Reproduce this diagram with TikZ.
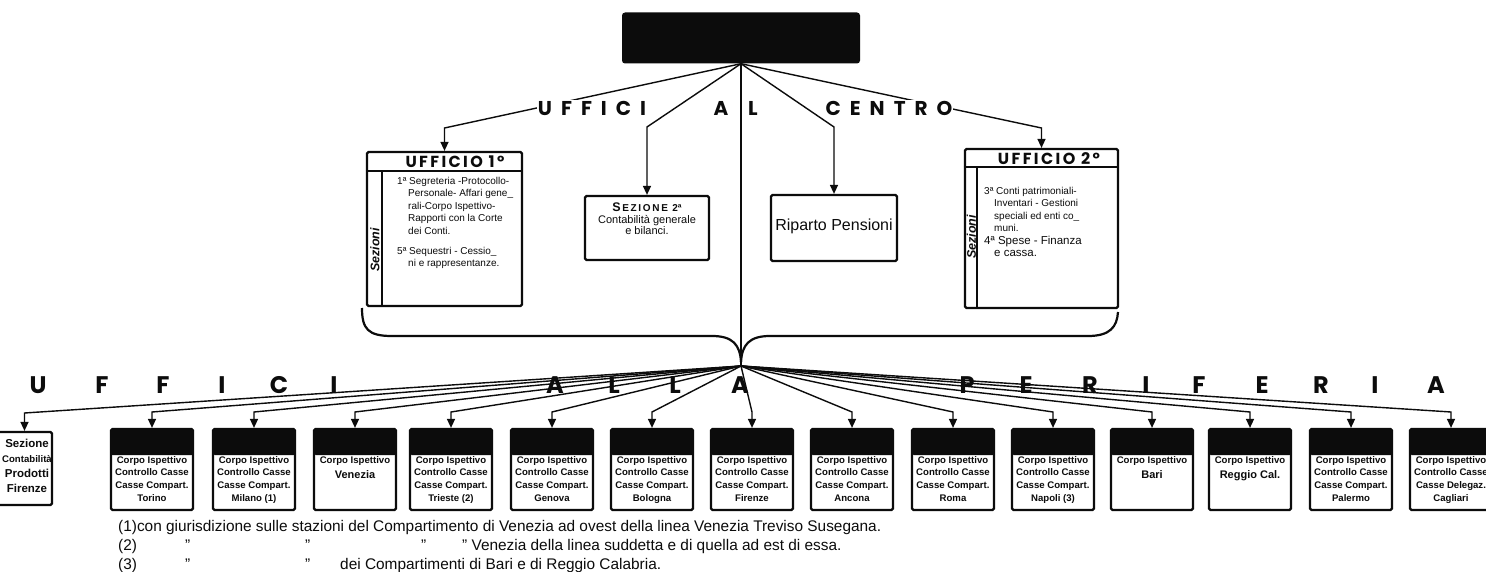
\documentclass[tikz,border=0pt]{standalone}
\usepackage{fontspec}
\setmainfont{Liberation Sans}
\newfontfamily\geofont{Poppins}
\newfontfamily\geowide{Poppins}[LetterSpace=45]
\newfontfamily\geohead{Poppins}[LetterSpace=15]
\usepackage{xcolor}
\definecolor{ink}{RGB}{12,12,12}
\usetikzlibrary{arrows.meta,positioning}

\begin{document}
\begin{tikzpicture}[x=1pt,y=-1pt,
        conn/.style={draw=ink,line width=1.4pt},
        arr/.style={conn,-{Triangle[length=9pt,width=8pt]}},
        frame/.style={draw=ink,line width=2.2pt,rounded corners=1.5pt,fill=white,inner sep=0pt},
        compbox/.style={frame,minimum width=82pt,minimum height=81pt,
            path picture={\fill[ink] (path picture bounding box.north west) rectangle ([yshift=-26pt]path picture bounding box.north east);}},
        comptext/.style={font=\bfseries\fontsize{9.6}{12.8}\selectfont,align=center,inner sep=0pt,anchor=north,text=ink},
        uffitext/.style={font=\fontsize{10}{12.4}\selectfont,align=left,inner sep=0pt,anchor=north west,text=ink},
        bigletter/.style={font=\geofont\bfseries\fontsize{24}{24}\selectfont,inner sep=0pt,text=ink},
        toptitle/.style={font=\geowide\bfseries\fontsize{20}{20}\selectfont,inner sep=1pt,text=ink},
        headtitle/.style={font=\geohead\bfseries\fontsize{16}{16}\selectfont,inner sep=0pt,text=ink},
        sezlabel/.style={font=\bfseries\itshape\fontsize{12.5}{12.5}\selectfont,rotate=90,inner sep=0pt,text=ink},
        note/.style={font=\fontsize{15.4}{18}\selectfont,anchor=base west,inner sep=0pt,text=ink}]
    \path[use as bounding box,fill=white] (0,0) rectangle (1486,572);

    \node[fill=ink,rounded corners=3pt,minimum width=238pt,minimum height=51pt] (dir) at (741,38) {};

    \begin{scope}
        \node[frame,minimum width=155pt,minimum height=154pt] (uff1) at (444.5,229) {};
        \draw[conn,line width=2pt] ([yshift=-20pt]uff1.north west) -- ([yshift=-20pt]uff1.north east);
        \draw[conn,line width=2pt] ([xshift=16pt,yshift=-20pt]uff1.north west) -- ([xshift=16pt]uff1.south west);
        \node[headtitle] (uff1head) at (455,162) {UFFICIO 1º};
        \node[sezlabel] (uff1sez) at (375,250) {Sezioni};
        \node[uffitext] (uff1txt) at (397,177) {1ª Segreteria -Protocollo-\\\hspace*{11pt}Personale- Affari gene\_\\\hspace*{11pt}rali-Corpo Ispettivo-\\\hspace*{11pt}Rapporti con la Corte\\\hspace*{11pt}dei Conti.\\[8pt]5ª Sequestri - Cessio\_\\\hspace*{11pt}ni e rappresentanze.};
    \end{scope}

    \node[frame,minimum width=124pt,minimum height=64pt] (sez2) at (647,228) {};
    \node[font=\fontsize{11}{11.5}\selectfont,align=center,inner sep=0pt,anchor=north,text=ink] (sez2txt) at (647,203) {{\bfseries\fontsize{12.5}{12}\selectfont S\fontsize{10}{12}\selectfont\,E\,Z\,I\,O\,N\,E\, 2ª}\\Contabilità generale\\e bilanci.};

    \node[frame,minimum width=126pt,minimum height=66pt] (ripp) at (834,228) {};
    \node[font=\fontsize{16}{16}\selectfont,inner sep=0pt,text=ink] (rippTxt) at (834,226) {Riparto Pensioni};

    \begin{scope}
        \node[frame,minimum width=153pt,minimum height=159pt] (uff2) at (1041.5,228.5) {};
        \draw[conn,line width=2pt] ([yshift=-19pt]uff2.north west) -- ([yshift=-19pt]uff2.north east);
        \draw[conn,line width=2pt] ([xshift=13pt,yshift=-19pt]uff2.north west) -- ([xshift=13pt]uff2.south west);
        \node[headtitle] (uff2head) at (1049,159) {UFFICIO 2º};
        \node[sezlabel] (uff2sez) at (971.5,237) {Sezioni};
        \node[uffitext] (uff2txt) at (984,187) {3ª Conti patrimoniali-\\\hspace*{10pt}Inventari - Gestioni\\\hspace*{10pt}speciali ed enti co\_\\\hspace*{10pt}muni.\\{\fontsize{11.5}{12.4}\selectfont 4ª Spese - Finanza}\\\hspace*{10pt}{\fontsize{11.5}{12.4}\selectfont e cassa.}};
    \end{scope}

    \coordinate (c-u1) at (444.5,128);
    \coordinate (c-s2) at (647,127);
    \coordinate (c-rp) at (834,127);
    \coordinate (c-u2) at (1041.5,128);
    \coordinate (fan) at (741,366);
    \draw[arr] (dir.south) -- (c-u1) -- (uff1.north);
    \draw[arr] (dir.south) -- (c-s2) -- (sez2.north);
    \draw[arr] (dir.south) -- (c-rp) -- (ripp.north);
    \draw[arr] (dir.south) -- (c-u2) -- (uff2.north);
    \draw[conn] (dir.south) -- (fan);

    \node[toptitle,fill=white] (tUffici) at (592,108) {UFFICI};
    \node[toptitle] (tA) at (721,108) {A};
    \node[toptitle] (tL) at (753,108) {L};
    \node[toptitle,fill=white] (tCentro) at (889,108) {CENTRO};

    \draw[ink,line width=2.2pt] (362,308) .. controls (362,329) and (368,336) .. (392,336) -- (712,336)
        .. controls (733,336) and (740,345) .. (741,362);
    \draw[ink,line width=2.2pt] (741,362) .. controls (742,345) and (749,336) .. (770,336) -- (1088,336)
        .. controls (1110,336) and (1117,327) .. (1118,312);

    \node[frame,minimum width=55pt,minimum height=73pt] (sezprod) at (24.5,468.5) {};
    \node[font=\bfseries\fontsize{11.5}{15}\selectfont,align=center,inner sep=0pt,text=ink] (sezprodTxt) at (27,466) {Sezione\\{\fontsize{9.6}{15}\selectfont Contabilità}\\Prodotti\\Firenze};
    \coordinate (c-sezprod) at (24.5,413);
    \draw[arr] (fan) -- (c-sezprod) -- (sezprod.north);

    \foreach \cx/\name/\txt in {
        152/torino/{Corpo Ispettivo\\Controllo Casse\\Casse Compart.\\Torino},
        254/milano/{Corpo Ispettivo\\Controllo Casse\\Casse Compart.\\Milano (1)},
        355/venezia/{Corpo Ispettivo\\[3pt]{\fontsize{11}{12}\selectfont Venezia}},
        451/trieste/{Corpo Ispettivo\\Controllo Casse\\Casse Compart.\\Trieste (2)},
        552/genova/{Corpo Ispettivo\\Controllo Casse\\Casse Compart.\\Genova},
        652/bologna/{Corpo Ispettivo\\Controllo Casse\\Casse Compart.\\Bologna},
        752/firenze/{Corpo Ispettivo\\Controllo Casse\\Casse Compart.\\Firenze},
        852/ancona/{Corpo Ispettivo\\Controllo Casse\\Casse Compart.\\Ancona},
        953/roma/{Corpo Ispettivo\\Controllo Casse\\Casse Compart.\\Roma},
        1053/napoli/{Corpo Ispettivo\\Controllo Casse\\Casse Compart.\\Napoli (3)},
        1152/bari/{Corpo Ispettivo\\[3pt]{\fontsize{11}{12}\selectfont Bari}},
        1250/reggio/{Corpo Ispettivo\\[3pt]{\fontsize{11}{12}\selectfont Reggio Cal.}},
        1351/palermo/{Corpo Ispettivo\\Controllo Casse\\Casse Compart.\\Palermo},
        1451/cagliari/{Corpo Ispettivo\\Controllo Casse\\Casse Delegaz.\\Cagliari}} {
        \node[compbox] (\name) at (\cx,469.5) {};
        \node[comptext] (\name-txt) at (\cx,456) {\txt};
        \coordinate (c-\name) at (\cx,412);
        \draw[arr] (fan) -- (c-\name) -- (\name.north);
    }

    \foreach \l/\x [count=\i] in {U/38,F/102,F/163,I/222,C/279,I/334,A/555,L/614,L/675,A/740,
        P/967,E/1026,R/1090,I/1146,F/1199,E/1262,R/1321,I/1375,A/1436}
        \node[bigletter] (ltr\i) at (\x,385) {\l};

    \node[note] (note1) at (118,531) {(1)con giurisdizione sulle stazioni del Compartimento di Venezia ad ovest della linea Venezia Treviso Susegana.};
    \node[note] (note2) at (118,550) {(2)};
    \node[note] (note2a) at (185,550) {”};
    \node[note] (note2b) at (305,550) {”};
    \node[note] (note2c) at (421,550) {”};
    \node[note] (note2d) at (462,550) {” Venezia della linea suddetta e di quella ad est di essa.};
    \node[note] (note3) at (118,569) {(3)};
    \node[note] (note3a) at (185,569) {”};
    \node[note] (note3b) at (305,569) {”};
    \node[note] (note3c) at (340,569) {dei Compartimenti di Bari e di Reggio Calabria.};
\end{tikzpicture}
\end{document}
